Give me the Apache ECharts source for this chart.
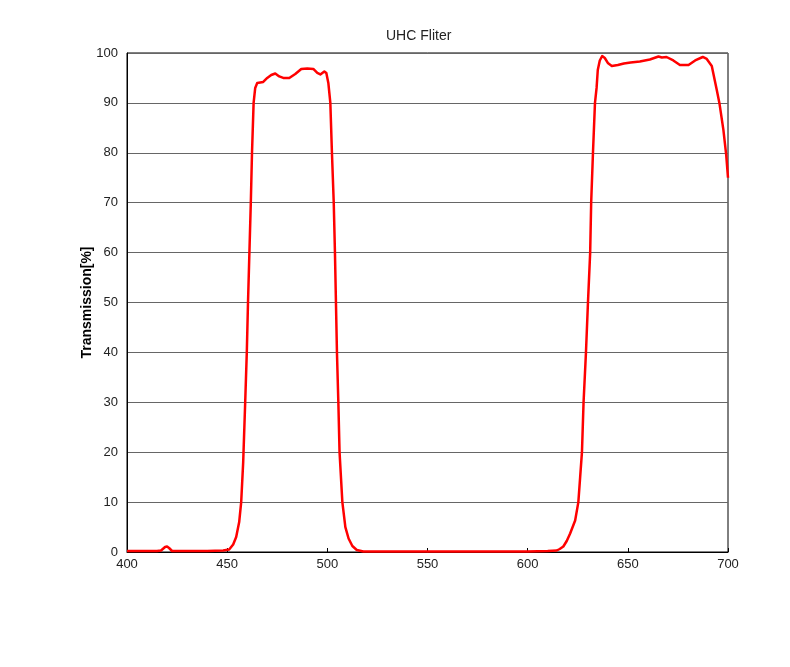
<!DOCTYPE html>
<html><head><meta charset="utf-8">
<script src="https://cdn.jsdelivr.net/npm/echarts@6/dist/echarts.min.js"></script>
<style>html,body{margin:0;padding:0;background:#fff}#c{width:790px;height:667px}</style>
</head><body><div id="c"></div>
<script>
const titleText = "UHC Fliter";
const yName = "Transmission[%]";
const wavelength = [400,405,410,415,417,419,420,421,422.5,430,440,448,451,453,454.5,456,457,458,459,459.8,460.4,461.1,461.8,462.4,463.2,464,465,468,470,472,474,476,478,481,484,487,490,493,495,496.5,498.5,499.5,500.5,501.5,502.3,503.2,503.8,504.3,504.8,505.5,506.1,507.5,509,510.6,512.5,514.7,518,525,550,575,600,610,614.5,616,617.8,619.5,621.2,623.7,625.3,626.2,627.1,627.9,629.1,630.1,631.2,631.7,632.6,633.6,634.4,635,636,637.2,638.5,640,642,645,648,651.4,656,661,665.3,667,669.3,672.7,676,680.3,683.6,687.4,689.4,691.9,694.4,695.7,697.7,699.1,700];
const transmission = [0.2,0.2,0.2,0.2,0.3,1.0,1.1,0.8,0.2,0.2,0.2,0.3,0.5,1.5,3,6,10,18,30,40,50,60,70,80,90,93,94,94.2,95,95.6,95.9,95.3,95.0,95.0,95.8,96.8,96.9,96.8,96.0,95.7,96.3,96.0,94,90,80,70,60,50,40,30,20,10,5,2.7,1.2,0.4,0.1,0.1,0.1,0.1,0.1,0.2,0.3,0.6,1.1,2.2,3.7,6.3,10,15,20,30,40,50,60,70,80,90,93,96.6,98.5,99.4,99.0,98.0,97.4,97.6,97.9,98.1,98.3,98.7,99.3,99.1,99.2,98.5,97.6,97.6,98.5,99.2,98.8,97.4,92.6,90,84.6,79.6,75];
const xTicks = {min:400, max:700, interval:50};
const yTicks = {min:0, max:100, interval:10};

const data = wavelength.map((w,i)=>[w, transmission[i]]);
const font = '"Liberation Sans", Arial, sans-serif';
const chart = echarts.init(document.getElementById('c'));
chart.setOption({
  animation:false,
  backgroundColor:'#fff',
  title:{text:titleText, left:381, top:24, textStyle:{fontFamily:font, fontSize:14, fontWeight:'normal', color:'#222'}},
  grid:{left:127, right:62, top:53, bottom:115, show:true, borderColor:'#000', borderWidth:1},
  xAxis:{type:'value', min:xTicks.min, max:xTicks.max, interval:xTicks.interval,
    axisLine:{lineStyle:{color:'#000'}}, axisTick:{inside:true, length:4, lineStyle:{color:'#000'}},
    splitLine:{show:false},
    axisLabel:{fontFamily:font, fontSize:13, color:'#222', margin:6}},
  yAxis:{type:'value', min:yTicks.min, max:yTicks.max, interval:yTicks.interval,
    name:yName, nameLocation:'middle', nameGap:33, nameRotate:90, nameMoveOverlap:false,
    nameTextStyle:{fontFamily:font, fontSize:14, fontWeight:'bold', color:'#000'},
    axisLine:{show:true, lineStyle:{color:'#000'}}, axisTick:{show:false},
    splitLine:{lineStyle:{color:'#666', width:1.2}},
    axisLabel:{fontFamily:font, fontSize:13, color:'#222', margin:9}},
  series:[{type:'line', data:data, showSymbol:false, smooth:false,
    lineStyle:{color:'#ff0000', width:2.5, join:'round'}, itemStyle:{color:'#ff0000'}}]
});
</script></body></html>
